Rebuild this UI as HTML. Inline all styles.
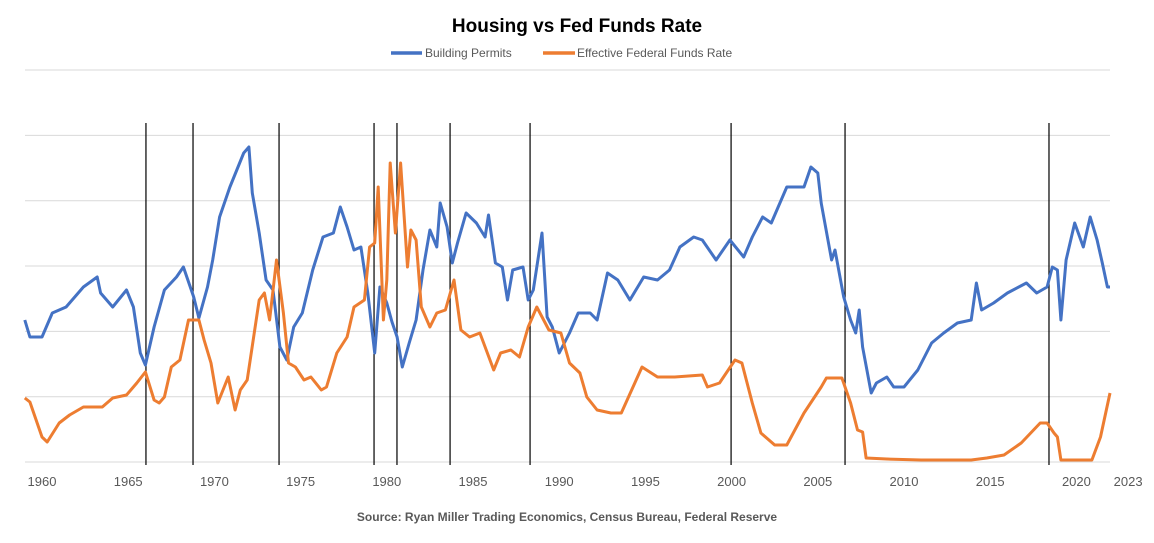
<!DOCTYPE html>
<html><head><meta charset="utf-8">
<style>
html,body{margin:0;padding:0;background:#fff;}
body{width:1154px;height:538px;overflow:hidden;font-family:"Liberation Sans",sans-serif;}
</style></head>
<body>
<svg id="chart" width="1154" height="538" xmlns="http://www.w3.org/2000/svg">
<text x="577" y="32" text-anchor="middle" font-family="Liberation Sans, sans-serif" font-weight="bold" font-size="19" fill="#000">Housing vs Fed Funds Rate</text>
<g>
<line x1="391" y1="53" x2="422" y2="53" stroke="#4472C4" stroke-width="3.5"/>
<text x="425" y="57" font-size="12" fill="#595959">Building Permits</text>
<line x1="543" y1="53" x2="575" y2="53" stroke="#ED7D31" stroke-width="3.5"/>
<text x="577" y="57" font-size="12" fill="#595959">Effective Federal Funds Rate</text>
</g>
<g id="grid"></g>
<g id="vlines"></g>
<g id="series"></g>
<g id="xticks"></g>
<text x="567" y="521" text-anchor="middle" font-weight="bold" font-size="12" fill="#595959">Source: Ryan Miller Trading Economics, Census Bureau, Federal Reserve</text>
</svg>
<script>
const tickLabels = ["1960","1965","1970","1975","1980","1985","1990","1995","2000","2005","2010","2015","2020","2023"];
const tickYears = [1960,1965,1970,1975,1980,1985,1990,1995,2000,2005,2010,2015,2020,2023];
const eventYears = [1966.03,1968.76,1973.75,1979.26,1980.59,1983.67,1988.31,1999.97,2006.58,2018.41];
const gridValues = [0,65.3,130.6,196,261.3,326.6,392];
const permitYears = [1959.0,1959.3,1960.0,1960.6,1961.4,1962.4,1963.2,1963.4,1964.1,1964.9,1965.3,1965.7,1966.0,1966.5,1967.1,1967.8,1968.2,1968.8,1969.1,1969.6,1969.9,1970.3,1970.9,1971.3,1971.7,1972.0,1972.2,1972.6,1973.0,1973.4,1973.8,1974.2,1974.6,1975.1,1975.7,1976.3,1976.9,1977.3,1977.7,1978.1,1978.5,1978.9,1979.3,1979.6,1980.0,1980.3,1980.6,1980.9,1981.3,1981.7,1982.1,1982.5,1982.9,1983.1,1983.5,1983.8,1984.1,1984.6,1985.2,1985.7,1985.9,1986.3,1986.7,1987.0,1987.3,1987.9,1988.2,1988.5,1989.0,1989.3,1989.6,1990.0,1990.6,1991.1,1991.8,1992.2,1992.8,1993.4,1994.1,1994.9,1995.7,1996.4,1997.0,1997.8,1998.3,1999.1,1999.9,2000.7,2001.2,2001.8,2002.3,2003.2,2004.2,2004.6,2005.0,2005.2,2005.8,2006.0,2006.5,2006.9,2007.2,2007.4,2007.6,2008.1,2008.4,2009.0,2009.4,2010.0,2010.8,2011.6,2012.3,2013.1,2013.9,2014.2,2014.5,2015.2,2016.0,2017.1,2017.7,2018.3,2018.6,2018.9,2019.1,2019.4,2019.9,2020.4,2020.8,2021.2,2021.5,2021.8,2021.95];
const permitValues = [142,125,125,149,155,175,185,169,155,172,155,109,97,135,172,185,195,165,144,175,202,245,275,292,309,315,269,229,182,172,115,102,135,149,192,225,229,255,235,212,215,169,109,175,159,140,125,95,119,142,192,232,215,259,235,199,219,249,239,225,247,199,195,162,192,195,162,172,229,145,135,109,129,149,149,142,189,182,162,185,182,192,215,225,222,202,222,205,225,245,239,275,275,295,289,259,202,212,165,142,129,152,115,69,79,85,75,75,92,119,129,139,142,179,152,159,169,179,169,175,195,192,142,202,239,215,245,222,199,175,175];
const rateYears = [1959.0,1959.3,1960.0,1960.3,1961.0,1961.6,1962.4,1963.5,1964.1,1964.9,1965.5,1966.0,1966.5,1966.8,1967.1,1967.5,1968.0,1968.5,1969.1,1969.4,1969.8,1970.2,1970.8,1971.2,1971.5,1971.9,1972.6,1972.9,1973.2,1973.6,1974.0,1974.3,1974.7,1975.2,1975.6,1976.2,1976.5,1977.1,1977.7,1978.1,1978.7,1979.0,1979.3,1979.5,1979.8,1980.0,1980.2,1980.5,1980.8,1981.2,1981.4,1981.7,1982.0,1982.5,1982.9,1983.4,1983.9,1984.3,1984.8,1985.4,1986.2,1986.6,1987.2,1987.7,1988.2,1988.7,1989.4,1990.1,1990.6,1991.2,1991.6,1992.2,1993.0,1993.6,1994.8,1995.7,1996.7,1998.3,1998.6,1999.3,2000.2,2000.6,2001.2,2001.7,2002.5,2003.2,2004.2,2005.2,2005.5,2006.4,2006.9,2007.3,2007.6,2007.8,2009.0,2011.0,2013.9,2014.8,2015.8,2016.8,2017.9,2018.3,2018.7,2018.9,2019.1,2020.9,2021.4,2021.95];
const rateValues = [64,60,25,20,39,47,55,55,64,67,79,90,62,59,65,95,102,142,142,122,99,59,85,52,72,82,162,169,142,202,149,99,95,82,85,72,75,109,125,155,162,215,219,275,142,182,299,229,299,195,232,222,155,135,149,152,182,132,125,129,92,109,112,105,135,155,132,129,99,89,65,52,49,49,95,85,85,87,75,79,102,99,59,29,17,17,49,75,84,84,59,32,30,4,3,2,2,4,7,19,39,39,29,25,2,2,25,69];
const X0 = 42, PX_PER_YEAR = 17.24, YBASE = 462;
function xScale(yr){ return X0 + (yr - 1960) * PX_PER_YEAR; }
function yScale(v){ return YBASE - v; }
const NS = "http://www.w3.org/2000/svg";
const grid = document.getElementById('grid');
gridValues.forEach((g,i)=>{
  const l = document.createElementNS(NS,'line');
  
  
  l.setAttribute('x1', 25); l.setAttribute('x2', 1110);
  l.setAttribute('y1', yScale(g)); l.setAttribute('y2', yScale(g));
  l.setAttribute('stroke', '#d9d9d9'); l.setAttribute('stroke-width', '1');
  grid.appendChild(l);
});
const vl = document.getElementById('vlines');
eventYears.forEach(e=>{
  const l = document.createElementNS(NS,'line');
  
  
  const x = xScale(e);
  l.setAttribute('x1', x); l.setAttribute('x2', x);
  l.setAttribute('y1', 123); l.setAttribute('y2', 465);
  l.setAttribute('stroke', '#000'); l.setAttribute('stroke-width', '1.2');
  vl.appendChild(l);
});
function drawSeries(years, vals, color, name){
  const p = document.createElementNS(NS,'polyline');
  
  
  p.setAttribute('points', years.map((y,i)=>xScale(y).toFixed(1)+','+yScale(vals[i]).toFixed(1)).join(' '));
  p.setAttribute('fill', 'none'); p.setAttribute('stroke', color);
  p.setAttribute('stroke-width', '3'); p.setAttribute('stroke-linejoin', 'round');
  document.getElementById('series').appendChild(p);
}
drawSeries(permitYears, permitValues, '#4472C4', 'building-permits-line');
drawSeries(rateYears, rateValues, '#ED7D31', 'fed-funds-line');
const xt = document.getElementById('xticks');
tickYears.forEach((t,i)=>{
  const tx = document.createElementNS(NS,'text');
  
  
  tx.setAttribute('x', xScale(t)); tx.setAttribute('y', 486);
  tx.setAttribute('text-anchor', 'middle'); tx.setAttribute('font-size', '13');
  tx.setAttribute('fill', '#595959');
  tx.textContent = tickLabels[i];
  xt.appendChild(tx);
});
</script>
</body></html>
